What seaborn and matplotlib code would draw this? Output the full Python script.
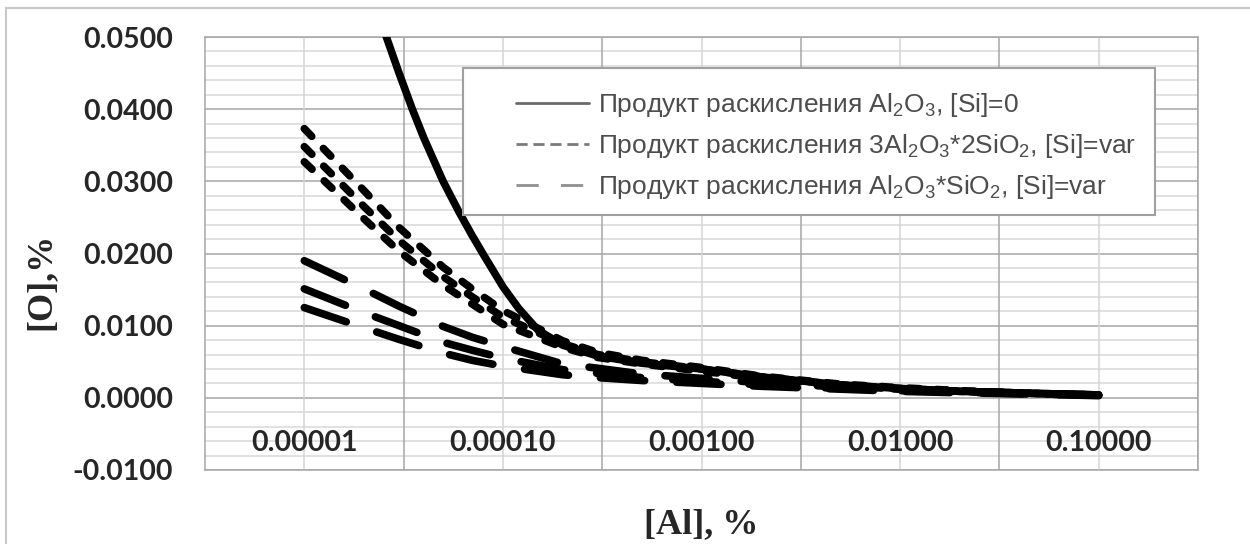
import pandas as pd
import matplotlib.pyplot as plt
import matplotlib.ticker as mticker
from matplotlib.lines import Line2D
from matplotlib.patches import Rectangle
import seaborn as sns

# ============================================================
# DATA
# ============================================================
# [Al], % grid for the SiO2-containing products
al_grid = [1e-5, 2e-5, 3e-5, 5e-5, 7e-5, 1e-4, 2e-4, 3e-4, 5e-4,
           1e-3, 2e-3, 5e-3, 1e-2, 2e-2, 5e-2, 1e-1]
# [Al], % grid for pure Al2O3 (curve enters the plot near 2.5e-5)
al_solid = [2.5e-5, 3e-5, 3.5e-5, 4e-5, 5e-5, 6e-5, 7e-5, 8e-5, 1e-4, 1.2e-4, 1.5e-4,
            2e-4, 3e-4, 5e-4, 1e-3, 2e-3, 5e-3, 1e-2, 2e-2, 5e-2, 1e-1]

# [O], % : Al2O3, [Si]=0
o_al2o3 = [0.0512, 0.0450, 0.0400, 0.0360, 0.0300, 0.0258, 0.0225, 0.0198, 0.0154,
           0.0124, 0.0094, 0.0073, 0.0058, 0.0048, 0.0040, 0.0029, 0.0018, 0.0013,
           0.0009, 0.0006, 0.0004]

# [O], % : 3Al2O3*2SiO2, three [Si] levels
o_mul_1 = [0.0373, 0.0287, 0.0236, 0.0181, 0.0151, 0.0121, 0.0079, 0.0063, 0.0052,
           0.0042, 0.0030, 0.0019, 0.0014, 0.0010, 0.0006, 0.0004]
o_mul_2 = [0.0348, 0.0265, 0.0218, 0.0168, 0.0140, 0.0112, 0.0075, 0.0060, 0.0050,
           0.0040, 0.0029, 0.0018, 0.0013, 0.0009, 0.0006, 0.0004]
o_mul_3 = [0.0327, 0.0248, 0.0203, 0.0156, 0.0130, 0.0102, 0.0070, 0.0056, 0.0047,
           0.0037, 0.0027, 0.0017, 0.0012, 0.0009, 0.0006, 0.0004]

# [O], % : Al2O3*SiO2, three [Si] levels
o_sil_1 = [0.0190, 0.0151, 0.0127, 0.0099, 0.0084, 0.0071, 0.0047, 0.0041, 0.0033,
           0.0027, 0.0021, 0.0015, 0.0012, 0.0009, 0.0006, 0.0004]
o_sil_2 = [0.0151, 0.0118, 0.0100, 0.0077, 0.0066, 0.0055, 0.0039, 0.0034, 0.0028,
           0.0023, 0.0018, 0.0013, 0.0010, 0.0008, 0.0005, 0.0004]
o_sil_3 = [0.0125, 0.0097, 0.0081, 0.0062, 0.0052, 0.0044, 0.0032, 0.0028, 0.0024,
           0.0020, 0.0016, 0.0012, 0.0009, 0.0007, 0.0005, 0.0003]

x_ticks = [1e-5, 1e-4, 1e-3, 1e-2, 1e-1]

labels = [
    'Продукт раскисления Al$_2$O$_3$, [Si]=0',
    'Продукт раскисления 3Al$_2$O$_3$*2SiO$_2$, [Si]=var',
    'Продукт раскисления Al$_2$O$_3$*SiO$_2$, [Si]=var',
]

# long-form table for seaborn
frames = [pd.DataFrame({'al': al_solid, 'o': o_al2o3, 'product': 'al2o3', 'curve': 'a0'})]
for i, o in enumerate([o_mul_1, o_mul_2, o_mul_3]):
    frames.append(pd.DataFrame({'al': al_grid, 'o': o, 'product': 'mullite', 'curve': f'm{i}'}))
for i, o in enumerate([o_sil_1, o_sil_2, o_sil_3]):
    frames.append(pd.DataFrame({'al': al_grid, 'o': o, 'product': 'sillimanite', 'curve': f's{i}'}))
df = pd.concat(frames, ignore_index=True)

# ============================================================
# PLOT
# ============================================================
sns.set_style('white')
plt.rcParams['mathtext.default'] = 'regular'

fig = plt.figure(figsize=(12.5, 5.44), dpi=100)
ax = fig.add_axes([205 / 1250, 1 - 470 / 544, 993 / 1250, 433 / 544])

sns.lineplot(data=df, x='al', y='o', style='product', units='curve', estimator=None,
             dashes={'al2o3': '', 'mullite': (1.4, 2.2), 'sillimanite': (5.8, 4.2)},
             color='black', lw=5.5, legend=False, sort=False, ax=ax,
             dash_capstyle='round', solid_capstyle='round', zorder=3)

ax.set_xscale('log')
ax.set_xlim(10 ** -5.5, 10 ** -0.5)
ax.set_ylim(-0.01, 0.05)

ax.xaxis.set_major_locator(mticker.FixedLocator(x_ticks))
ax.xaxis.set_minor_locator(mticker.FixedLocator([t * 10 ** 0.5 for t in x_ticks]))
ax.xaxis.set_major_formatter(mticker.FuncFormatter(lambda v, p: f'{v:.5f}'))
ax.xaxis.set_minor_formatter(mticker.NullFormatter())
ax.yaxis.set_major_locator(mticker.MultipleLocator(0.01))
ax.yaxis.set_minor_locator(mticker.MultipleLocator(0.002))
ax.yaxis.set_major_formatter(mticker.FuncFormatter(lambda v, p: f'{v:.4f}'))

ax.grid(which='major', axis='y', color='#a6a6a6', lw=1.1)
ax.grid(which='minor', axis='y', color='#d9d9d9', lw=1.1)
ax.grid(which='major', axis='x', color='#d4d4d4', lw=1.1)
ax.grid(which='minor', axis='x', color='#a6a6a6', lw=1.1)
ax.set_axisbelow(True)
# y grid under the x tick labels that sit inside the plot
ax.yaxis.set_zorder(0.4)
for s in ax.spines.values():
    s.set_color('#a6a6a6')
    s.set_linewidth(1.1)

tick_font = dict(family='Lato', weight='bold', size=20.5)
ax.tick_params(axis='both', which='both', length=0)
ax.tick_params(axis='y', pad=23)
ax.tick_params(axis='x', pad=-29)
for t in ax.get_xticklabels() + ax.get_yticklabels():
    t.set_fontproperties(tick_font)

label_font = dict(family='Liberation Serif', weight='bold', size=26)
ax.set_xlabel('[Al], %', **label_font)
ax.set_ylabel('[O],%', **label_font)
ax.xaxis.set_label_coords(0.5, (470 - 508) / 433)
ax.yaxis.set_label_coords((57 - 205) / 993, 0.4365)

# legend box
ax.add_patch(Rectangle(((463 - 205) / 993, (470 - 215) / 433), 692 / 993, 147 / 433,
                       transform=ax.transAxes, facecolor='white', edgecolor='#a0a0a0',
                       lw=1.5, zorder=4))
handles = [
    Line2D([], [], color='#6a6a6a', lw=2, linestyle='-'),
    Line2D([], [], color='#7a7a7a', lw=2, linestyle=(0, (4, 2.1))),
    Line2D([], [], color='#8f8f8f', lw=2, linestyle=(0, (8, 8))),
]
leg = ax.legend(handles, labels, loc='upper left', frameon=False,
                bbox_to_anchor=((516 - 205) / 993, (470 - 91) / 433),
                borderpad=0, borderaxespad=0, handlelength=2.75, handletextpad=0.35,
                labelspacing=0.5, prop=dict(family='Liberation Sans', size=19))
leg.set_zorder(5)
for t in leg.get_texts():
    t.set_color('#4d4d4d')

# outer chart frame
fig.patches.append(Rectangle((6 / 1250, -0.05), 1.2, 1 - 8 / 544 + 0.05,
                             transform=fig.transFigure, fill=False,
                             edgecolor='#c8c8c8', lw=1.5))

fig.savefig('out.png', dpi=100)
